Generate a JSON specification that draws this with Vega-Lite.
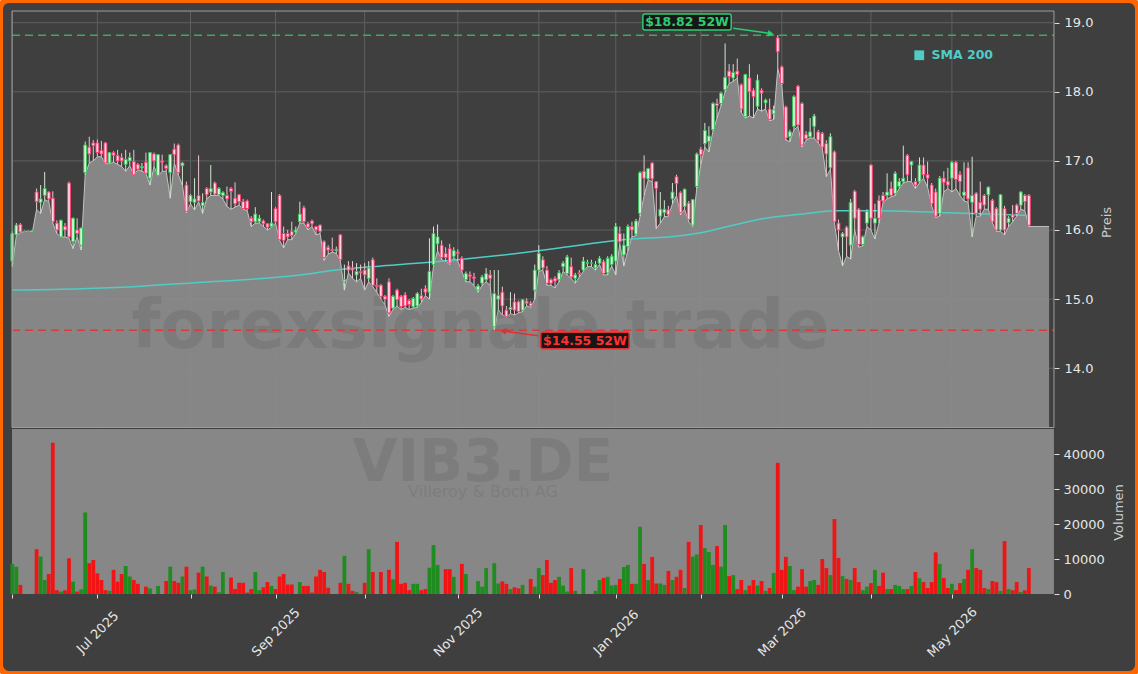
{
"$schema": "https://vega.github.io/schema/vega-lite/v6.json",
"width": 1138, "height": 674, "padding": 0, "autosize": {"type": "none"},
"background": "#ffffff",
"config": {
  "view": {"fill": "#3f3f3f", "stroke": "#ff6600", "strokeWidth": 6, "cornerRadius": 9},
  "font": "DejaVu Sans",
  "axis": {"labelFont": "DejaVu Sans", "titleFont": "DejaVu Sans"},
  "legend": {"labelFont": "DejaVu Sans"},
  "text": {"font": "DejaVu Sans"}
},
"datasets": {
"ohlc": [
{"i":0,"o":15.55,"h":15.98,"l":15.47,"c":15.95,"v":8600},
{"i":1,"o":15.93,"h":16.10,"l":15.92,"c":16.07,"v":7800},
{"i":2,"o":16.08,"h":16.10,"l":15.96,"c":15.97,"v":2600},
{"i":3,"o":15.98,"h":15.99,"l":15.98,"c":15.98,"v":0},
{"i":4,"o":15.98,"h":15.99,"l":15.98,"c":15.98,"v":0},
{"i":5,"o":15.99,"h":16.00,"l":15.98,"c":15.99,"v":0},
{"i":6,"o":16.55,"h":16.60,"l":16.30,"c":16.41,"v":12800},
{"i":7,"o":16.40,"h":16.65,"l":16.24,"c":16.45,"v":10700},
{"i":8,"o":16.50,"h":16.84,"l":16.44,"c":16.60,"v":4000},
{"i":9,"o":16.55,"h":16.56,"l":16.41,"c":16.45,"v":5700},
{"i":10,"o":16.46,"h":16.56,"l":16.10,"c":16.12,"v":43200},
{"i":11,"o":16.10,"h":16.14,"l":15.95,"c":16.00,"v":1100},
{"i":12,"o":15.90,"h":16.15,"l":15.90,"c":16.14,"v":700},
{"i":13,"o":16.05,"h":16.10,"l":15.90,"c":16.00,"v":1100},
{"i":14,"o":16.68,"h":16.70,"l":15.88,"c":15.90,"v":10200},
{"i":15,"o":15.83,"h":16.18,"l":15.73,"c":16.17,"v":3500},
{"i":16,"o":16.00,"h":16.17,"l":15.90,"c":15.95,"v":700},
{"i":17,"o":15.78,"h":16.03,"l":15.71,"c":16.03,"v":1300},
{"i":18,"o":16.83,"h":17.28,"l":16.80,"c":17.23,"v":23300},
{"i":19,"o":17.20,"h":17.35,"l":16.97,"c":17.10,"v":8800},
{"i":20,"o":17.26,"h":17.30,"l":17.00,"c":17.22,"v":9700},
{"i":21,"o":17.26,"h":17.31,"l":17.06,"c":17.12,"v":5900},
{"i":22,"o":17.15,"h":17.29,"l":17.06,"c":17.10,"v":4000},
{"i":23,"o":17.26,"h":17.27,"l":16.96,"c":16.97,"v":1100},
{"i":24,"o":16.97,"h":17.13,"l":16.96,"c":17.12,"v":900},
{"i":25,"o":17.12,"h":17.14,"l":16.98,"c":17.08,"v":6900},
{"i":26,"o":17.08,"h":17.16,"l":16.95,"c":17.00,"v":3500},
{"i":27,"o":17.05,"h":17.11,"l":16.92,"c":17.00,"v":5700},
{"i":28,"o":16.95,"h":17.16,"l":16.85,"c":17.02,"v":8000},
{"i":29,"o":17.00,"h":17.12,"l":16.93,"c":17.05,"v":5000},
{"i":30,"o":16.99,"h":17.16,"l":16.80,"c":16.80,"v":4000},
{"i":31,"o":16.95,"h":16.97,"l":16.87,"c":16.88,"v":2900},
{"i":32,"o":16.90,"h":16.97,"l":16.85,"c":16.92,"v":0},
{"i":33,"o":16.98,"h":17.12,"l":16.82,"c":16.82,"v":2100},
{"i":34,"o":16.75,"h":17.13,"l":16.65,"c":17.12,"v":1600},
{"i":35,"o":17.10,"h":17.12,"l":16.92,"c":17.00,"v":0},
{"i":36,"o":16.79,"h":17.10,"l":16.78,"c":17.09,"v":2300},
{"i":37,"o":17.00,"h":17.09,"l":16.85,"c":16.98,"v":0},
{"i":38,"o":16.93,"h":16.95,"l":16.85,"c":16.89,"v":3700},
{"i":39,"o":16.83,"h":17.10,"l":16.46,"c":17.09,"v":7800},
{"i":40,"o":17.17,"h":17.25,"l":16.97,"c":17.09,"v":3700},
{"i":41,"o":17.23,"h":17.25,"l":16.80,"c":16.83,"v":3200},
{"i":42,"o":16.93,"h":16.98,"l":16.65,"c":16.97,"v":5000},
{"i":43,"o":16.65,"h":16.70,"l":16.25,"c":16.27,"v":7800},
{"i":44,"o":16.41,"h":16.52,"l":16.38,"c":16.50,"v":1100},
{"i":45,"o":16.40,"h":16.75,"l":16.29,"c":16.45,"v":1300},
{"i":46,"o":16.50,"h":17.08,"l":16.41,"c":16.42,"v":6100},
{"i":47,"o":16.35,"h":16.53,"l":16.24,"c":16.40,"v":7800},
{"i":48,"o":16.60,"h":16.62,"l":16.45,"c":16.51,"v":5000},
{"i":49,"o":16.55,"h":16.94,"l":16.50,"c":16.60,"v":2400},
{"i":50,"o":16.68,"h":16.70,"l":16.50,"c":16.52,"v":2100},
{"i":51,"o":16.51,"h":16.62,"l":16.50,"c":16.60,"v":500},
{"i":52,"o":16.50,"h":16.56,"l":16.45,"c":16.54,"v":6300},
{"i":53,"o":16.50,"h":16.63,"l":16.34,"c":16.45,"v":0},
{"i":54,"o":16.60,"h":16.62,"l":16.30,"c":16.56,"v":4700},
{"i":55,"o":16.46,"h":16.69,"l":16.33,"c":16.38,"v":1400},
{"i":56,"o":16.51,"h":16.52,"l":16.36,"c":16.41,"v":3200},
{"i":57,"o":16.41,"h":16.45,"l":16.30,"c":16.31,"v":3200},
{"i":58,"o":16.42,"h":16.44,"l":16.28,"c":16.31,"v":400},
{"i":59,"o":16.17,"h":16.20,"l":16.05,"c":16.12,"v":1400},
{"i":60,"o":16.12,"h":16.33,"l":16.10,"c":16.23,"v":6300},
{"i":61,"o":16.12,"h":16.22,"l":16.10,"c":16.17,"v":1100},
{"i":62,"o":16.13,"h":16.15,"l":16.05,"c":16.09,"v":1900},
{"i":63,"o":16.09,"h":16.10,"l":16.00,"c":16.04,"v":3400},
{"i":64,"o":16.05,"h":16.55,"l":16.04,"c":16.10,"v":2300},
{"i":65,"o":16.31,"h":16.33,"l":16.10,"c":16.12,"v":1400},
{"i":66,"o":16.50,"h":16.52,"l":15.85,"c":15.86,"v":5000},
{"i":67,"o":15.95,"h":16.05,"l":15.74,"c":15.85,"v":5700},
{"i":68,"o":15.95,"h":16.00,"l":15.86,"c":15.90,"v":2700},
{"i":69,"o":15.98,"h":16.12,"l":15.86,"c":15.92,"v":2700},
{"i":70,"o":15.97,"h":16.05,"l":15.95,"c":16.00,"v":0},
{"i":71,"o":16.12,"h":16.41,"l":16.10,"c":16.23,"v":3400},
{"i":72,"o":16.32,"h":16.35,"l":16.10,"c":16.12,"v":2300},
{"i":73,"o":16.09,"h":16.12,"l":16.00,"c":16.04,"v":2300},
{"i":74,"o":16.13,"h":16.15,"l":16.05,"c":16.09,"v":400},
{"i":75,"o":16.05,"h":16.06,"l":15.93,"c":16.00,"v":5000},
{"i":76,"o":16.07,"h":16.08,"l":15.95,"c":15.98,"v":6900},
{"i":77,"o":15.83,"h":15.85,"l":15.56,"c":15.60,"v":6300},
{"i":78,"o":15.75,"h":15.78,"l":15.65,"c":15.71,"v":1800},
{"i":79,"o":15.72,"h":15.89,"l":15.68,"c":15.70,"v":0},
{"i":80,"o":15.70,"h":15.76,"l":15.66,"c":15.72,"v":0},
{"i":81,"o":15.93,"h":15.94,"l":15.55,"c":15.57,"v":3200},
{"i":82,"o":15.25,"h":15.50,"l":15.13,"c":15.28,"v":10900},
{"i":83,"o":15.48,"h":15.55,"l":15.38,"c":15.42,"v":2900},
{"i":84,"o":15.45,"h":15.55,"l":15.30,"c":15.42,"v":900},
{"i":85,"o":15.35,"h":15.52,"l":15.25,"c":15.40,"v":600},
{"i":86,"o":15.40,"h":15.50,"l":15.30,"c":15.38,"v":0},
{"i":87,"o":15.42,"h":15.52,"l":15.13,"c":15.35,"v":3200},
{"i":88,"o":15.30,"h":15.55,"l":15.25,"c":15.45,"v":12800},
{"i":89,"o":15.57,"h":15.60,"l":15.18,"c":15.20,"v":6300},
{"i":90,"o":15.20,"h":15.30,"l":15.10,"c":15.18,"v":0},
{"i":91,"o":15.20,"h":15.22,"l":15.00,"c":15.04,"v":6300},
{"i":92,"o":15.04,"h":15.06,"l":14.92,"c":15.00,"v":0},
{"i":93,"o":15.25,"h":15.30,"l":14.75,"c":14.80,"v":6900},
{"i":94,"o":14.87,"h":15.06,"l":14.85,"c":15.04,"v":4200},
{"i":95,"o":15.13,"h":15.15,"l":14.90,"c":14.99,"v":14900},
{"i":96,"o":15.04,"h":15.06,"l":14.85,"c":14.89,"v":2900},
{"i":97,"o":15.06,"h":15.10,"l":14.88,"c":14.90,"v":3200},
{"i":98,"o":14.98,"h":15.00,"l":14.85,"c":14.92,"v":1100},
{"i":99,"o":14.89,"h":15.03,"l":14.87,"c":15.01,"v":2900},
{"i":100,"o":14.90,"h":15.10,"l":14.88,"c":15.08,"v":2900},
{"i":101,"o":15.05,"h":15.15,"l":14.95,"c":15.00,"v":1100},
{"i":102,"o":15.15,"h":15.20,"l":15.05,"c":15.10,"v":1400},
{"i":103,"o":15.10,"h":15.88,"l":15.00,"c":15.40,"v":7500},
{"i":104,"o":15.50,"h":16.05,"l":15.48,"c":15.95,"v":14000},
{"i":105,"o":15.80,"h":16.08,"l":15.70,"c":15.90,"v":8300},
{"i":106,"o":15.78,"h":15.85,"l":15.57,"c":15.60,"v":0},
{"i":107,"o":15.66,"h":15.75,"l":15.55,"c":15.60,"v":7100},
{"i":108,"o":15.73,"h":15.80,"l":15.50,"c":15.52,"v":7100},
{"i":109,"o":15.62,"h":15.75,"l":15.60,"c":15.70,"v":4900},
{"i":110,"o":15.68,"h":15.72,"l":15.55,"c":15.66,"v":0},
{"i":111,"o":15.59,"h":15.62,"l":15.40,"c":15.42,"v":8600},
{"i":112,"o":15.28,"h":15.40,"l":15.25,"c":15.37,"v":5700},
{"i":113,"o":15.35,"h":15.40,"l":15.25,"c":15.33,"v":0},
{"i":114,"o":15.32,"h":15.38,"l":15.20,"c":15.30,"v":0},
{"i":115,"o":15.13,"h":15.22,"l":15.10,"c":15.19,"v":3700},
{"i":116,"o":15.23,"h":15.35,"l":15.20,"c":15.32,"v":2100},
{"i":117,"o":15.28,"h":15.45,"l":15.25,"c":15.37,"v":7400},
{"i":118,"o":15.35,"h":15.42,"l":15.20,"c":15.30,"v":0},
{"i":119,"o":14.60,"h":15.42,"l":14.55,"c":15.08,"v":8800},
{"i":120,"o":15.00,"h":15.42,"l":14.85,"c":15.05,"v":3000},
{"i":121,"o":15.10,"h":15.18,"l":14.77,"c":14.90,"v":3600},
{"i":122,"o":14.84,"h":14.90,"l":14.74,"c":14.75,"v":2900},
{"i":123,"o":14.85,"h":15.10,"l":14.79,"c":14.88,"v":1400},
{"i":124,"o":14.96,"h":15.08,"l":14.77,"c":14.84,"v":1900},
{"i":125,"o":14.96,"h":14.98,"l":14.80,"c":14.82,"v":1600},
{"i":126,"o":14.84,"h":15.00,"l":14.82,"c":14.99,"v":2600},
{"i":127,"o":14.97,"h":15.01,"l":14.90,"c":14.94,"v":0},
{"i":128,"o":14.94,"h":14.97,"l":14.88,"c":14.90,"v":4300},
{"i":129,"o":15.13,"h":15.50,"l":15.00,"c":15.42,"v":2100},
{"i":130,"o":15.42,"h":15.78,"l":15.40,"c":15.66,"v":7400},
{"i":131,"o":15.57,"h":15.62,"l":15.42,"c":15.45,"v":5400},
{"i":132,"o":15.42,"h":15.48,"l":15.20,"c":15.23,"v":9700},
{"i":133,"o":15.28,"h":15.30,"l":15.20,"c":15.23,"v":3200},
{"i":134,"o":15.30,"h":15.33,"l":15.16,"c":15.26,"v":4000},
{"i":135,"o":15.28,"h":15.42,"l":15.25,"c":15.38,"v":4900},
{"i":136,"o":15.47,"h":15.55,"l":15.40,"c":15.52,"v":2400},
{"i":137,"o":15.37,"h":15.64,"l":15.35,"c":15.61,"v":700},
{"i":138,"o":15.47,"h":15.60,"l":15.30,"c":15.32,"v":7400},
{"i":139,"o":15.30,"h":15.38,"l":15.23,"c":15.35,"v":900},
{"i":140,"o":15.38,"h":15.42,"l":15.32,"c":15.37,"v":0},
{"i":141,"o":15.42,"h":15.61,"l":15.40,"c":15.55,"v":7100},
{"i":142,"o":15.52,"h":15.57,"l":15.47,"c":15.53,"v":0},
{"i":143,"o":15.52,"h":15.57,"l":15.47,"c":15.52,"v":0},
{"i":144,"o":15.45,"h":15.55,"l":15.42,"c":15.50,"v":900},
{"i":145,"o":15.52,"h":15.62,"l":15.50,"c":15.59,"v":4000},
{"i":146,"o":15.54,"h":15.57,"l":15.35,"c":15.37,"v":4600},
{"i":147,"o":15.38,"h":15.62,"l":15.35,"c":15.59,"v":4900},
{"i":148,"o":15.50,"h":15.65,"l":15.48,"c":15.62,"v":2400},
{"i":149,"o":15.55,"h":16.10,"l":15.35,"c":16.05,"v":2600},
{"i":150,"o":15.95,"h":16.05,"l":15.80,"c":15.83,"v":4300},
{"i":151,"o":15.64,"h":15.95,"l":15.48,"c":15.78,"v":7700},
{"i":152,"o":15.76,"h":16.08,"l":15.70,"c":16.05,"v":8300},
{"i":153,"o":16.05,"h":16.12,"l":15.90,"c":16.00,"v":2900},
{"i":154,"o":15.94,"h":16.16,"l":15.92,"c":16.13,"v":2900},
{"i":155,"o":16.24,"h":16.85,"l":16.20,"c":16.83,"v":19200},
{"i":156,"o":16.85,"h":17.08,"l":16.50,"c":16.75,"v":8600},
{"i":157,"o":16.74,"h":16.90,"l":16.72,"c":16.89,"v":4000},
{"i":158,"o":16.97,"h":16.98,"l":16.70,"c":16.74,"v":10600},
{"i":159,"o":16.70,"h":16.70,"l":16.02,"c":16.60,"v":3000},
{"i":160,"o":16.20,"h":16.55,"l":16.10,"c":16.30,"v":3000},
{"i":161,"o":16.25,"h":16.43,"l":16.19,"c":16.30,"v":2600},
{"i":162,"o":16.29,"h":16.35,"l":16.20,"c":16.22,"v":6600},
{"i":163,"o":16.45,"h":16.68,"l":16.38,"c":16.55,"v":4000},
{"i":164,"o":16.77,"h":16.80,"l":16.50,"c":16.67,"v":4900},
{"i":165,"o":16.54,"h":16.56,"l":16.22,"c":16.25,"v":6900},
{"i":166,"o":16.34,"h":16.60,"l":16.30,"c":16.59,"v":1700},
{"i":167,"o":16.39,"h":16.42,"l":16.12,"c":16.15,"v":14900},
{"i":168,"o":16.07,"h":16.45,"l":16.05,"c":16.44,"v":10700},
{"i":169,"o":16.63,"h":17.12,"l":16.60,"c":17.10,"v":11300},
{"i":170,"o":17.17,"h":17.20,"l":16.95,"c":17.09,"v":19700},
{"i":171,"o":17.25,"h":17.55,"l":17.20,"c":17.44,"v":13100},
{"i":172,"o":17.28,"h":17.50,"l":17.13,"c":17.36,"v":12000},
{"i":173,"o":17.45,"h":17.85,"l":17.43,"c":17.83,"v":8300},
{"i":174,"o":17.83,"h":17.90,"l":17.62,"c":17.80,"v":13700},
{"i":175,"o":17.83,"h":18.00,"l":17.80,"c":17.98,"v":7800},
{"i":176,"o":18.03,"h":18.70,"l":18.00,"c":18.21,"v":19700},
{"i":177,"o":18.30,"h":18.40,"l":18.12,"c":18.22,"v":5100},
{"i":178,"o":18.20,"h":18.40,"l":18.15,"c":18.28,"v":5400},
{"i":179,"o":18.30,"h":18.48,"l":18.20,"c":18.25,"v":1400},
{"i":180,"o":18.10,"h":18.12,"l":17.70,"c":17.75,"v":4000},
{"i":181,"o":17.64,"h":18.26,"l":17.62,"c":18.25,"v":1100},
{"i":182,"o":18.20,"h":18.40,"l":17.65,"c":18.00,"v":2400},
{"i":183,"o":18.02,"h":18.05,"l":17.62,"c":17.93,"v":4000},
{"i":184,"o":17.79,"h":18.25,"l":17.75,"c":18.17,"v":2400},
{"i":185,"o":18.02,"h":18.05,"l":17.72,"c":17.98,"v":3700},
{"i":186,"o":17.84,"h":17.90,"l":17.75,"c":17.88,"v":900},
{"i":187,"o":17.75,"h":17.90,"l":17.58,"c":17.60,"v":1700},
{"i":188,"o":17.68,"h":17.80,"l":17.60,"c":17.74,"v":6000},
{"i":189,"o":18.78,"h":18.82,"l":18.34,"c":18.58,"v":37500},
{"i":190,"o":18.36,"h":18.38,"l":18.10,"c":18.12,"v":6900},
{"i":191,"o":17.78,"h":17.80,"l":17.30,"c":17.33,"v":10600},
{"i":192,"o":17.35,"h":17.45,"l":17.28,"c":17.42,"v":8000},
{"i":193,"o":17.50,"h":17.95,"l":17.45,"c":17.93,"v":1100},
{"i":194,"o":18.08,"h":18.10,"l":17.50,"c":17.52,"v":2100},
{"i":195,"o":17.83,"h":17.85,"l":17.20,"c":17.23,"v":7100},
{"i":196,"o":17.38,"h":17.43,"l":17.30,"c":17.32,"v":2100},
{"i":197,"o":17.35,"h":17.62,"l":17.33,"c":17.42,"v":3700},
{"i":198,"o":17.50,"h":17.68,"l":17.33,"c":17.65,"v":4000},
{"i":199,"o":17.42,"h":17.45,"l":17.26,"c":17.30,"v":2600},
{"i":200,"o":17.40,"h":17.42,"l":17.18,"c":17.20,"v":10000},
{"i":201,"o":17.25,"h":17.30,"l":16.77,"c":17.10,"v":7400},
{"i":202,"o":16.90,"h":17.40,"l":16.88,"c":17.35,"v":5400},
{"i":203,"o":17.13,"h":17.15,"l":16.10,"c":16.12,"v":21400},
{"i":204,"o":16.10,"h":16.15,"l":15.70,"c":16.00,"v":10300},
{"i":205,"o":15.90,"h":15.97,"l":15.48,"c":15.95,"v":5100},
{"i":206,"o":16.04,"h":16.06,"l":15.62,"c":15.90,"v":4300},
{"i":207,"o":15.78,"h":16.45,"l":15.58,"c":16.40,"v":4000},
{"i":208,"o":16.56,"h":16.58,"l":16.00,"c":16.17,"v":7400},
{"i":209,"o":16.30,"h":16.32,"l":15.75,"c":15.79,"v":3400},
{"i":210,"o":15.79,"h":15.92,"l":15.77,"c":15.90,"v":1100},
{"i":211,"o":16.10,"h":16.30,"l":16.05,"c":16.27,"v":2100},
{"i":212,"o":16.94,"h":16.95,"l":16.00,"c":16.17,"v":3100},
{"i":213,"o":16.10,"h":16.38,"l":15.87,"c":16.17,"v":6900},
{"i":214,"o":16.43,"h":16.50,"l":16.10,"c":16.17,"v":2300},
{"i":215,"o":16.50,"h":16.55,"l":16.40,"c":16.42,"v":6100},
{"i":216,"o":16.50,"h":16.82,"l":16.45,"c":16.55,"v":1400},
{"i":217,"o":16.60,"h":16.70,"l":16.48,"c":16.50,"v":1400},
{"i":218,"o":16.53,"h":16.85,"l":16.50,"c":16.82,"v":2600},
{"i":219,"o":16.63,"h":16.75,"l":16.60,"c":16.70,"v":2300},
{"i":220,"o":16.70,"h":17.22,"l":16.68,"c":16.75,"v":1400},
{"i":221,"o":17.08,"h":17.10,"l":16.70,"c":16.80,"v":1400},
{"i":222,"o":16.94,"h":17.00,"l":16.70,"c":16.99,"v":2300},
{"i":223,"o":16.70,"h":16.75,"l":16.60,"c":16.65,"v":6300},
{"i":224,"o":16.70,"h":17.05,"l":16.68,"c":16.94,"v":4500},
{"i":225,"o":16.94,"h":17.05,"l":16.75,"c":16.80,"v":3400},
{"i":226,"o":16.80,"h":16.99,"l":16.62,"c":16.75,"v":1700},
{"i":227,"o":16.65,"h":16.68,"l":16.35,"c":16.38,"v":3400},
{"i":228,"o":16.55,"h":16.60,"l":16.18,"c":16.20,"v":11900},
{"i":229,"o":16.24,"h":16.78,"l":16.20,"c":16.75,"v":8600},
{"i":230,"o":16.75,"h":16.85,"l":16.55,"c":16.69,"v":4600},
{"i":231,"o":16.70,"h":16.90,"l":16.60,"c":16.65,"v":1700},
{"i":232,"o":16.75,"h":17.00,"l":16.55,"c":16.98,"v":2900},
{"i":233,"o":16.98,"h":17.00,"l":16.60,"c":16.73,"v":1100},
{"i":234,"o":16.80,"h":16.85,"l":16.50,"c":16.70,"v":3100},
{"i":235,"o":16.50,"h":16.98,"l":16.42,"c":16.55,"v":4300},
{"i":236,"o":16.90,"h":16.98,"l":16.40,"c":16.45,"v":6900},
{"i":237,"o":16.40,"h":17.06,"l":15.90,"c":16.50,"v":12800},
{"i":238,"o":16.53,"h":16.55,"l":16.20,"c":16.24,"v":7400},
{"i":239,"o":16.40,"h":16.70,"l":16.20,"c":16.30,"v":6900},
{"i":240,"o":16.50,"h":16.52,"l":16.30,"c":16.36,"v":1700},
{"i":241,"o":16.51,"h":16.63,"l":16.30,"c":16.62,"v":1400},
{"i":242,"o":16.43,"h":16.45,"l":16.10,"c":16.12,"v":3700},
{"i":243,"o":16.31,"h":16.33,"l":15.98,"c":16.00,"v":3400},
{"i":244,"o":16.00,"h":16.52,"l":15.98,"c":16.51,"v":900},
{"i":245,"o":16.31,"h":16.35,"l":15.93,"c":16.00,"v":15100},
{"i":246,"o":16.11,"h":16.20,"l":16.05,"c":16.17,"v":1400},
{"i":247,"o":16.22,"h":16.36,"l":16.12,"c":16.18,"v":1100},
{"i":248,"o":16.36,"h":16.38,"l":16.20,"c":16.24,"v":3400},
{"i":249,"o":16.36,"h":16.56,"l":16.30,"c":16.55,"v":600},
{"i":250,"o":16.50,"h":16.52,"l":16.28,"c":16.41,"v":1100},
{"i":251,"o":16.50,"h":16.52,"l":16.05,"c":16.07,"v":7400},
{"i":252,"l":16.05},
{"i":253,"l":16.05},
{"i":254,"l":16.05},
{"i":255,"l":16.05},
{"i":256,"l":16.05}
],
"sma": [
{"i":0,"s":15.13},{"i":17,"s":15.15},{"i":30,"s":15.18},{"i":46,"s":15.24},{"i":60,"s":15.29},{"i":71,"s":15.35},{"i":81,"s":15.43},{"i":96,"s":15.5},{"i":110,"s":15.57},{"i":120,"s":15.63},{"i":135,"s":15.74},{"i":145,"s":15.82},{"i":153,"s":15.87},{"i":162,"s":15.9},{"i":170,"s":15.96},{"i":178,"s":16.07},{"i":186,"s":16.17},{"i":195,"s":16.23},{"i":203,"s":16.28},{"i":214,"s":16.28},{"i":231,"s":16.25},{"i":251,"s":16.21}
],
"months": [{"i":0},{"i":21},{"i":44},{"i":65},{"i":87},{"i":110},{"i":130},{"i":149},{"i":170},{"i":190},{"i":212},{"i":232}],
"levels": [{"p":14},{"p":15},{"p":16},{"p":17},{"p":18},{"p":19}]
},
"resolve": {"scale": {"y": "independent"}, "axis": {"y": "independent"}},
"layer": [
{
"layer": [
  {
    "data": {"name": "levels"},
    "mark": {"type": "rule", "color": "#5f5f5f", "strokeWidth": 1},
    "encoding": {
      "x": {"datum": -0.07, "type": "quantitative", "scale": {"domain": [-3.037, 277.95], "nice": false, "zero": false, "padding": 0}},
      "x2": {"datum": 257.2},
      "y": {"field": "p", "type": "quantitative", "scale": {"domain": [9.5745, 19.3285], "nice": false, "zero": false, "padding": 0},
        "axis": {"orient": "right", "offset": -84, "values": [14, 15, 16, 17, 18, 19], "format": ".1f", "domain": false, "grid": false,
          "ticks": true, "tickColor": "#dddddd", "tickSize": 5, "labelPadding": 5, "labelColor": "#e6e6e6", "labelFontSize": 13,
          "title": "Preis", "titleColor": "#cccccc", "titleFontSize": 13, "titleFontWeight": "normal", "titleAngle": 270,
          "titleX": 52, "titleY": 222, "titleAlign": "center", "titleBaseline": "middle"}}
    }
  },
  {
    "data": {"name": "months"},
    "mark": {"type": "rule", "color": "#5f5f5f", "strokeWidth": 1},
    "encoding": {
      "x": {"field": "i", "type": "quantitative", "scale": {"domain": [-3.037, 277.95], "nice": false, "zero": false, "padding": 0}},
      "y": {"datum": 13.142, "type": "quantitative"},
      "y2": {"datum": 19.169}
    }
  },
  {
    "data": {"name": "ohlc"},
    "mark": {"type": "area", "color": "#8c8c8c", "opacity": 0.93},
    "encoding": {
      "x": {"field": "i", "type": "quantitative"},
      "y": {"field": "l", "type": "quantitative"},
      "y2": {"datum": 13.142}
    }
  },
  {
    "data": {"name": "ohlc"},
    "mark": {"type": "line", "color": "#c2c2c2", "strokeWidth": 1},
    "encoding": {
      "x": {"field": "i", "type": "quantitative"},
      "y": {"field": "l", "type": "quantitative"}
    }
  },
  {
    "data": {"values": [{}]},
    "mark": {"type": "text", "text": "forexsignale.trade", "fontSize": 67, "fontWeight": "bold", "color": "#000000", "opacity": 0.08, "align": "center", "baseline": "alphabetic"},
    "encoding": {
      "x": {"datum": 115.6, "type": "quantitative"},
      "y": {"datum": 14.29, "type": "quantitative"}
    }
  },
  {
    "data": {"values": [{}]},
    "mark": {"type": "rule", "color": "#3daa63", "strokeWidth": 1.5, "strokeDash": [8, 5]},
    "encoding": {
      "x": {"datum": -0.07, "type": "quantitative"},
      "x2": {"datum": 257.2},
      "y": {"datum": 18.82, "type": "quantitative"}
    }
  },
  {
    "data": {"values": [{}]},
    "mark": {"type": "rule", "color": "#d63c3c", "strokeWidth": 1.5, "strokeDash": [8, 5]},
    "encoding": {
      "x": {"datum": -0.07, "type": "quantitative"},
      "x2": {"datum": 257.2},
      "y": {"datum": 14.55, "type": "quantitative"}
    }
  },
  {
    "data": {"name": "sma"},
    "mark": {"type": "line", "strokeWidth": 1.5, "interpolate": "monotone"},
    "encoding": {
      "x": {"field": "i", "type": "quantitative"},
      "y": {"field": "s", "type": "quantitative"},
      "color": {"datum": "SMA 200", "type": "nominal", "scale": {"domain": ["SMA 200"], "range": ["#4ecdc4"]},
        "legend": {"orient": "none", "legendX": 913, "legendY": 49, "title": null, "symbolType": "square", "symbolSize": 95,
          "symbolFillColor": "#4ecdc4", "symbolStrokeColor": "#4ecdc4", "symbolStrokeWidth": 0, "labelColor": "#4ecdc4",
          "labelFontWeight": "bold", "labelFontSize": 12.5, "labelOffset": 6}}
    }
  },
  {
    "data": {"name": "ohlc"},
    "transform": [{"filter": "isValid(datum.o)"}],
    "mark": {"type": "rule", "strokeWidth": 1},
    "encoding": {
      "x": {"field": "i", "type": "quantitative"},
      "y": {"field": "l", "type": "quantitative"},
      "y2": {"field": "h"},
      "color": {"condition": {"test": "datum.c >= datum.o", "value": "#cfe6cf"}, "value": "#ecc6d0"}
    }
  },
  {
    "data": {"name": "ohlc"},
    "transform": [{"filter": "isValid(datum.o)"}],
    "mark": {"type": "bar", "width": 2.8, "strokeWidth": 1},
    "encoding": {
      "x": {"field": "i", "type": "quantitative"},
      "y": {"field": "o", "type": "quantitative"},
      "y2": {"field": "c"},
      "fill": {"condition": {"test": "datum.c >= datum.o", "value": "#dff3df"}, "value": "#f9d9e2"},
      "stroke": {"condition": {"test": "datum.c >= datum.o", "value": "#36c45a"}, "value": "#ff3f72"}
    }
  },
  {
    "data": {"values": [{}]},
    "mark": {"type": "rect", "fill": "#161616", "stroke": "#2ecc71", "strokeWidth": 1.5, "cornerRadius": 2},
    "encoding": {
      "x": {"datum": 155.7, "type": "quantitative"},
      "x2": {"datum": 177.5},
      "y": {"datum": 19.126, "type": "quantitative"},
      "y2": {"datum": 18.894}
    }
  },
  {
    "data": {"values": [{}]},
    "mark": {"type": "text", "text": "$18.82 52W", "fontSize": 12.5, "fontWeight": "bold", "color": "#2ecc71", "align": "center", "baseline": "middle"},
    "encoding": {
      "x": {"datum": 166.6, "type": "quantitative"},
      "y": {"datum": 19.01, "type": "quantitative"}
    }
  },
  {
    "data": {"values": [{}]},
    "mark": {"type": "rule", "color": "#2ecc71", "strokeWidth": 1.5},
    "encoding": {
      "x": {"datum": 178.0, "type": "quantitative"},
      "x2": {"datum": 187.6},
      "y": {"datum": 18.92, "type": "quantitative"},
      "y2": {"datum": 18.84}
    }
  },
  {
    "data": {"values": [{}]},
    "mark": {"type": "point", "shape": "triangle-right", "filled": true, "color": "#2ecc71", "size": 45, "angle": 8, "opacity": 1},
    "encoding": {
      "x": {"datum": 187.3, "type": "quantitative"},
      "y": {"datum": 18.84, "type": "quantitative"}
    }
  },
  {
    "data": {"values": [{}]},
    "mark": {"type": "rect", "fill": "#161616", "stroke": "#e03030", "strokeWidth": 1.5, "cornerRadius": 2},
    "encoding": {
      "x": {"datum": 130.5, "type": "quantitative"},
      "x2": {"datum": 152.3},
      "y": {"datum": 14.52, "type": "quantitative"},
      "y2": {"datum": 14.28}
    }
  },
  {
    "data": {"values": [{}]},
    "mark": {"type": "text", "text": "$14.55 52W", "fontSize": 12.5, "fontWeight": "bold", "color": "#ff3030", "align": "center", "baseline": "middle"},
    "encoding": {
      "x": {"datum": 141.4, "type": "quantitative"},
      "y": {"datum": 14.40, "type": "quantitative"}
    }
  },
  {
    "data": {"values": [{}]},
    "mark": {"type": "rule", "color": "#e03030", "strokeWidth": 1.5},
    "encoding": {
      "x": {"datum": 129.8, "type": "quantitative"},
      "x2": {"datum": 121.0},
      "y": {"datum": 14.47, "type": "quantitative"},
      "y2": {"datum": 14.54}
    }
  },
  {
    "data": {"values": [{}]},
    "mark": {"type": "point", "shape": "triangle-left", "filled": true, "color": "#e03030", "size": 45, "angle": 11.6, "opacity": 1},
    "encoding": {
      "x": {"datum": 121.2, "type": "quantitative"},
      "y": {"datum": 14.54, "type": "quantitative"}
    }
  },
  {
    "data": {"values": [{}]},
    "mark": {"type": "rect", "filled": false, "stroke": "#9e9e9e", "strokeWidth": 1},
    "encoding": {
      "x": {"datum": -0.07, "type": "quantitative"},
      "x2": {"datum": 257.2},
      "y": {"datum": 13.142, "type": "quantitative"},
      "y2": {"datum": 19.169}
    }
  }
]
},
{
"layer": [
  {
    "data": {"values": [{}]},
    "mark": {"type": "rect", "fill": "#878787"},
    "encoding": {
      "x": {"datum": -0.07, "type": "quantitative", "scale": {"domain": [-3.037, 277.95], "nice": false, "zero": false, "padding": 0}},
      "x2": {"datum": 257.2},
      "y": {"datum": 0, "type": "quantitative", "scale": {"domain": [-22857, 169714], "nice": false, "zero": false, "padding": 0}},
      "y2": {"datum": 47143}
    }
  },
  {
    "data": {"values": [{}]},
    "mark": {"type": "text", "text": "VIB3.DE", "fontSize": 58, "fontWeight": "bold", "color": "#000000", "opacity": 0.07, "align": "center", "baseline": "alphabetic"},
    "encoding": {
      "x": {"datum": 116.2, "type": "quantitative"},
      "y": {"datum": 32400, "type": "quantitative"}
    }
  },
  {
    "data": {"values": [{}]},
    "mark": {"type": "text", "text": "Villeroy & Boch AG", "fontSize": 16, "color": "#000000", "opacity": 0.07, "align": "center", "baseline": "alphabetic"},
    "encoding": {
      "x": {"datum": 116.2, "type": "quantitative"},
      "y": {"datum": 27800, "type": "quantitative"}
    }
  },
  {
    "data": {"name": "ohlc"},
    "transform": [{"filter": "isValid(datum.o)"}],
    "mark": {"type": "bar", "width": 3.8},
    "encoding": {
      "x": {"field": "i", "type": "quantitative", "scale": {"domain": [-3.037, 277.95], "nice": false, "zero": false, "padding": 0},
        "axis": {"values": [0, 21, 44, 65, 87, 110, 130, 149, 170, 190, 212, 232],
          "labelExpr": "datum.value == 21 ? 'Jul 2025' : datum.value == 65 ? 'Sep 2025' : datum.value == 110 ? 'Nov 2025' : datum.value == 149 ? 'Jan 2026' : datum.value == 190 ? 'Mar 2026' : datum.value == 232 ? 'May 2026' : ''",
          "offset": -80, "domain": false, "grid": false, "ticks": true, "tickColor": "#dddddd", "tickSize": 4,
          "labelAngle": -45, "labelAlign": "center", "labelBaseline": "middle", "labelPadding": 34,
          "labelColor": "#e6e6e6", "labelFontSize": 13, "labelOverlap": false, "labelFlush": false, "title": null}},
      "y": {"field": "v", "type": "quantitative", "scale": {"domain": [-22857, 169714], "nice": false, "zero": false, "padding": 0},
        "axis": {"orient": "right", "offset": -84, "values": [0, 10000, 20000, 30000, 40000], "format": "d", "domain": false, "grid": false,
          "ticks": true, "tickColor": "#dddddd", "tickSize": 5, "labelPadding": 4, "labelColor": "#e6e6e6", "labelFontSize": 13,
          "title": "Volumen", "titleColor": "#cccccc", "titleFontSize": 13, "titleFontWeight": "normal", "titleAngle": 270,
          "titleX": 64, "titleY": 512, "titleAlign": "center", "titleBaseline": "middle"}},
      "y2": {"datum": 0},
      "color": {"condition": {"test": "datum.c >= datum.o", "value": "#1e8c1e"}, "value": "#f01414"}
    }
  }
]
}
]
}
